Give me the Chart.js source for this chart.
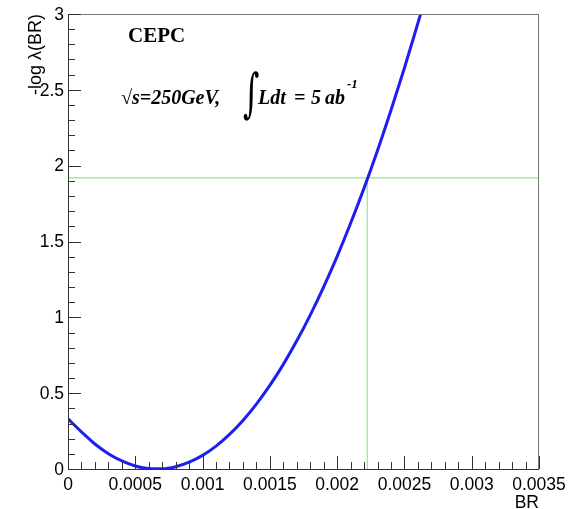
<!DOCTYPE html>
<html>
<head>
<meta charset="utf-8">
<script src="https://cdn.jsdelivr.net/npm/chart.js"></script>
<style>
  html, body { margin: 0; padding: 0; background: #fff; }
  #wrap { width: 571px; height: 509px; }
</style>
</head>
<body>
<div id="wrap"><canvas id="myChart" width="571" height="509"></canvas></div>
<script>
// values
var brValues = [0, 0.0001, 0.0002, 0.0003, 0.0004, 0.0005, 0.0006, 0.0007, 0.0008, 0.0009,
  0.0010, 0.0011, 0.0012, 0.0013, 0.0014, 0.0015, 0.0016, 0.0017, 0.0018, 0.0019,
  0.0020, 0.0021, 0.0022, 0.0023, 0.0024, 0.0025, 0.0026, 0.00262]
var nllValues = [0.33, 0.245, 0.165, 0.101, 0.053, 0.020, 0.003, 0.001, 0.015, 0.045,
  0.090, 0.151, 0.228, 0.320, 0.428, 0.551, 0.690, 0.845, 1.015, 1.201,
  1.402, 1.620, 1.852, 2.100, 2.365, 2.644, 2.939, 3.0]
// 95% CL line and the crossing point
var limitLevel = 1.92
var limitBR = 0.002224

var xTickLabels = ['0', '0.0005', '0.001', '0.0015', '0.002', '0.0025', '0.003', '0.0035']
var yTickLabels = ['0', '0.5', '1', '1.5', '2', '2.5', '3']

var curve = brValues.map(function (x, i) { return { x: x, y: nllValues[i] } })

// ROOT style frame, ticks inside, labels and text
var rootFrame = {
  id: 'rootFrame',
  afterDraw: function (chart) {
    var c = chart.ctx
    var xs = chart.scales.x, ys = chart.scales.y
    var a = chart.chartArea
    c.save()
    c.lineWidth = 1
    c.strokeStyle = '#777'
    c.beginPath()
    c.moveTo(a.left, a.top + 0.5); c.lineTo(a.right, a.top + 0.5)
    c.moveTo(a.right - 0.5, a.top); c.lineTo(a.right - 0.5, a.bottom)
    c.stroke()
    c.strokeStyle = '#333'
    c.beginPath()
    c.moveTo(a.left + 0.5, a.top); c.lineTo(a.left + 0.5, a.bottom + 0.5)
    c.lineTo(a.right, a.bottom + 0.5)
    // x ticks
    for (var i = 0; i <= 35; i++) {
      var px = Math.round(xs.getPixelForValue(i * 0.0001)) + 0.5
      var len = (i % 5 == 0) ? 13 : 7
      c.moveTo(px, a.bottom); c.lineTo(px, a.bottom - len)
    }
    // y ticks
    for (var j = 0; j <= 30; j++) {
      var py = Math.round(ys.getPixelForValue(j * 0.1)) + 0.5
      var l2 = (j % 5 == 0) ? 13 : 7
      c.moveTo(a.left, py); c.lineTo(a.left + l2, py)
    }
    c.stroke()

    c.fillStyle = '#000'
    c.font = '17.5px "Liberation Sans", Arial, sans-serif'
    c.textAlign = 'center'
    c.textBaseline = 'alphabetic'
    xTickLabels.forEach(function (t) {
      c.fillText(t, xs.getPixelForValue(parseFloat(t)), 490)
    })
    c.textAlign = 'right'
    c.textBaseline = 'middle'
    yTickLabels.forEach(function (t) {
      c.fillText(t, 64, ys.getPixelForValue(parseFloat(t)) + 1)
    })
    // axis titles
    c.textBaseline = 'alphabetic'
    c.textAlign = 'right'
    c.fillText('BR', a.right, 508)
    c.save()
    c.translate(41, a.top)
    c.rotate(-Math.PI / 2)
    c.textAlign = 'right'
    c.font = '18px "Liberation Sans", Arial, sans-serif'
    c.fillText('-log \u03bb(BR)', 0, 0)
    c.restore()

    // labels
    c.textAlign = 'left'
    c.font = 'bold 21px "Liberation Serif", "Times New Roman", serif'
    c.fillText('CEPC', 128, 42)
    var bi = 'bold italic 20px "Liberation Serif", "Times New Roman", serif'
    c.font = bi
    c.fillText('\u221as=250GeV,', 121, 104)
    // integral sign, tall and narrow
    c.save()
    c.translate(243, 111)
    c.scale(0.75, 1.25)
    c.font = '42px "DejaVu Serif", serif'
    c.fillText('\u222b', 0, 0)
    c.restore()
    c.font = bi
    c.fillText('Ldt', 258, 104)
    c.fillText('=', 294, 104)
    c.fillText('5', 311, 104)
    c.fillText('ab', 325, 104)
    c.font = 'bold italic 13px "Liberation Serif", "Times New Roman", serif'
    c.fillText('-1', 347, 88)
    c.restore()
  }
}

const ctx = document.getElementById('myChart')

new Chart(ctx, {
  type: 'scatter',
  data: {
    datasets: [{
      label: 'nll',
      data: curve,
      showLine: true,
      borderColor: '#1e1ef2',
      borderWidth: 3,
      pointRadius: 0,
      tension: 0.4,
      cubicInterpolationMode: 'monotone',
      order: 0
    }, {
      label: 'level',
      data: [{ x: 0, y: limitLevel }, { x: 0.0035, y: limitLevel }],
      showLine: true,
      borderColor: '#86ee86',
      borderWidth: 1.2,
      pointRadius: 0,
      order: 1
    }, {
      label: 'limit',
      data: [{ x: limitBR, y: 0 }, { x: limitBR, y: limitLevel }],
      showLine: true,
      borderColor: '#86ee86',
      borderWidth: 1.2,
      pointRadius: 0,
      order: 1
    }]
  },
  options: {
    responsive: false,
    animation: false,
    layout: { padding: { left: 68, right: 32, top: 14, bottom: 40 } },
    plugins: { legend: { display: false }, tooltip: { enabled: false } },
    scales: {
      x: { type: 'linear', min: 0, max: 0.0035, display: false },
      y: { type: 'linear', min: 0, max: 3, display: false }
    }
  },
  plugins: [rootFrame]
})
</script>
</body>
</html>
